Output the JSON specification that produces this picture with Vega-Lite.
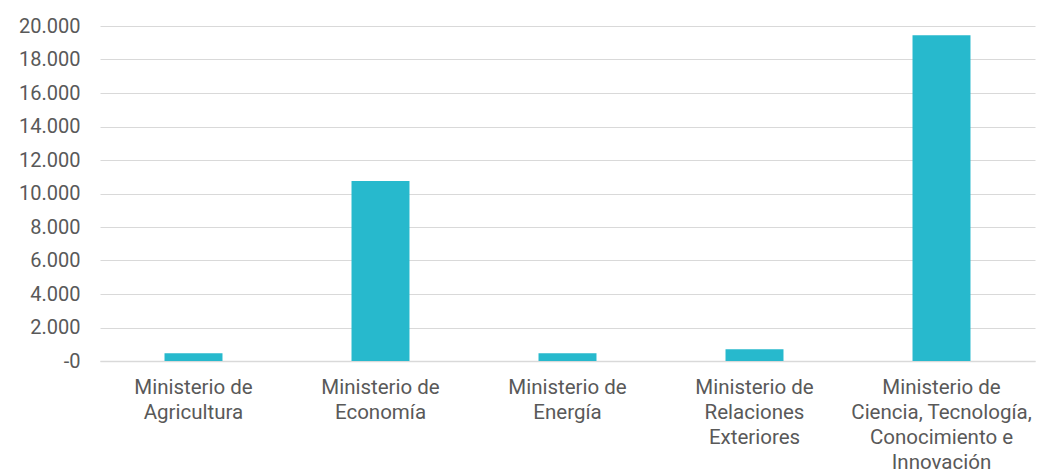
{
  "$schema": "https://vega.github.io/schema/vega-lite/v6.json",
  "width": 935,
  "height": 335,
  "autosize": "none",
  "padding": {"left": 100, "top": 26, "right": 12, "bottom": 114},
  "background": "white",
  "config": {"view": {"stroke": null}, "font": "Roboto"},
  "data": {
    "values": [
      {"ministerio": "Ministerio de|Agricultura", "valor": 470},
      {"ministerio": "Ministerio de|Economía", "valor": 10750},
      {"ministerio": "Ministerio de|Energía", "valor": 470},
      {"ministerio": "Ministerio de|Relaciones|Exteriores", "valor": 700},
      {"ministerio": "Ministerio de|Ciencia, Tecnología,|Conocimiento e|Innovación", "valor": 19450}
    ]
  },
  "mark": {"type": "bar", "color": "#27b9cd"},
  "encoding": {
    "x": {
      "field": "ministerio",
      "type": "nominal",
      "sort": null,
      "scale": {"paddingInner": 0.69, "paddingOuter": 0.345},
      "axis": {
        "title": null,
        "labelAngle": 0,
        "labelExpr": "split(datum.label, '|')",
        "labelFontSize": 20.5,
        "labelColor": "#595959",
        "labelLineHeight": 25,
        "labelPadding": 16,
        "ticks": false,
        "tickSize": 0,
        "domainColor": "#d9d9d9",
        "domainWidth": 1.5,
        "labelLimit": 0
      }
    },
    "y": {
      "field": "valor",
      "type": "quantitative",
      "scale": {"domain": [0, 20000]},
      "axis": {
        "title": null,
        "values": [0, 2000, 4000, 6000, 8000, 10000, 12000, 14000, 16000, 18000, 20000],
        "labelExpr": "datum.value == 0 ? '-0' : replace(format(datum.value, ','), ',', '.')",
        "labelFontSize": 20,
        "labelColor": "#595959",
        "labelPadding": 20,
        "ticks": false,
        "domain": false,
        "gridColor": "#d9d9d9",
        "gridWidth": 1
      }
    }
  }
}
